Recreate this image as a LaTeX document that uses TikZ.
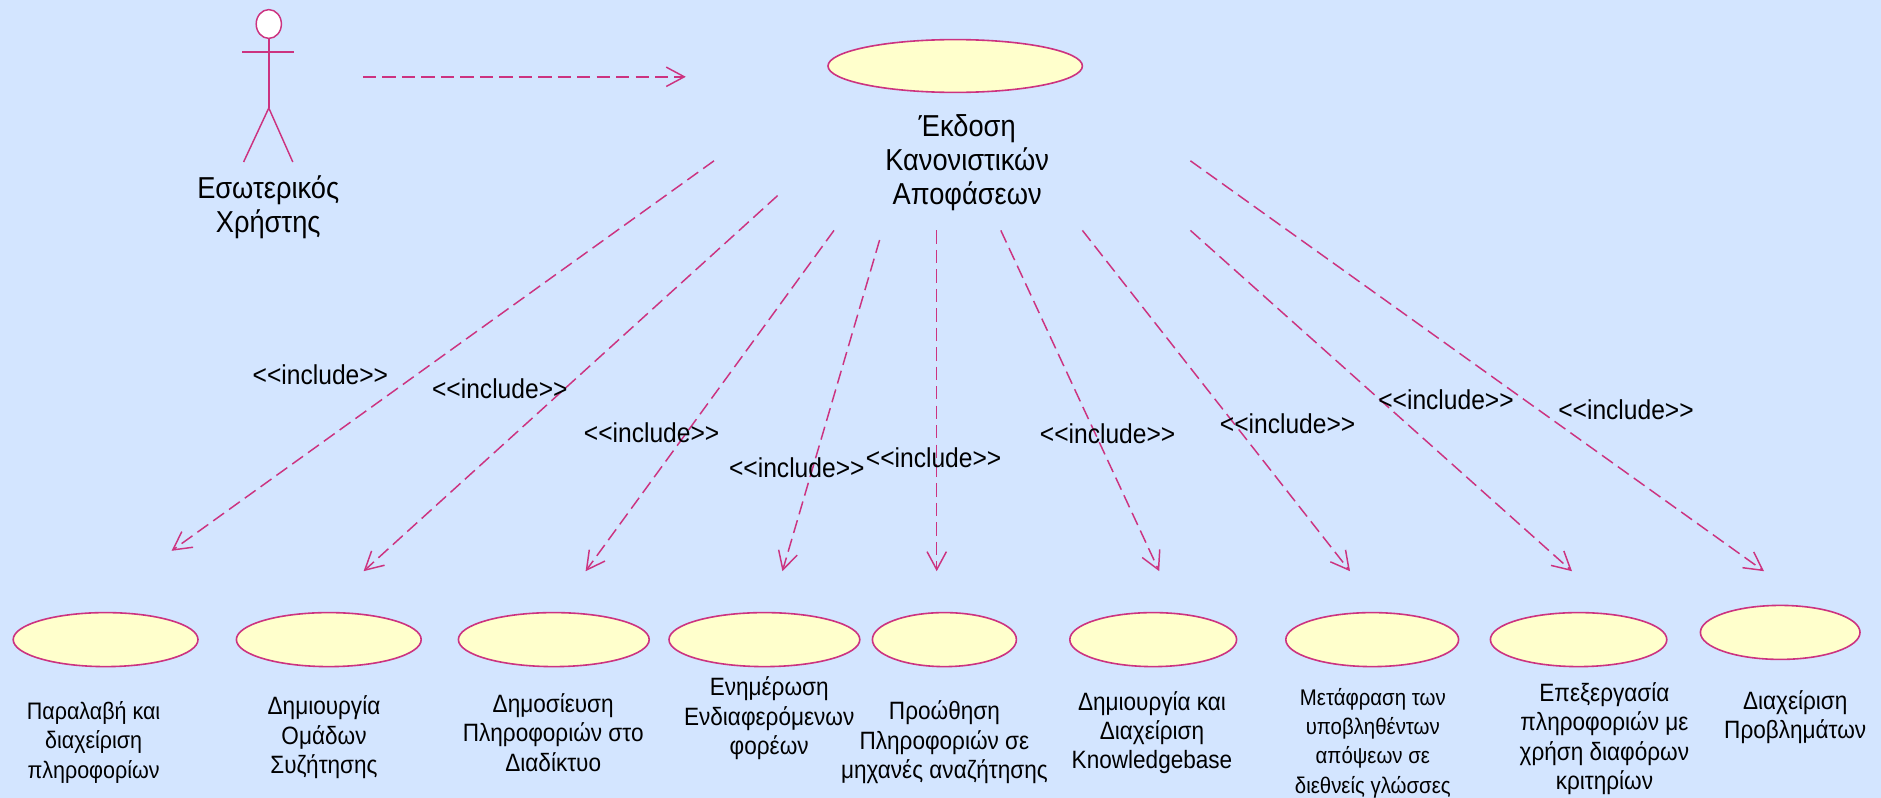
\documentclass[tikz,border=0pt]{standalone}
\usepackage{fontspec}
\setmainfont{Liberation Sans}
\usetikzlibrary{shapes.geometric,arrows.meta}
\definecolor{bgblue}{HTML}{D3E5FF}
\definecolor{umlline}{HTML}{CC3380}
\definecolor{ucfill}{HTML}{FFFFCC}
\newfontfamily\narrowfont[FakeStretch=0.9]{Liberation Sans}
\tikzset{
  usecase/.style={ellipse,draw=umlline,fill=ucfill,line width=1.2pt,inner sep=0,outer sep=0},
  dep/.style={draw=umlline,line width=1.1pt,dash pattern=on 10pt off 4.6pt,-{Straight Barb[length=13.5pt,width=14.5pt,line width=1.1pt]}},
  actorline/.style={draw=umlline,line width=1.1pt},
  lbl/.style={align=center,inner sep=0,font=\fontsize{18.8}{22}\selectfont\narrowfont},
  lblsmall/.style={lbl,font=\fontsize{17.9}{22}\selectfont\narrowfont},
  lbltight/.style={lbl,font=\fontsize{17}{22}\selectfont\narrowfont},
  biglbl/.style={align=center,inner sep=0,font=\fontsize{22.7}{25.5}\selectfont\narrowfont},
  inc/.style={inner sep=0,font=\fontsize{20.5}{20}\selectfont\narrowfont},
}
\begin{document}
\begin{tikzpicture}[x=0.9pt,y=-0.9pt]
\path[use as bounding box,fill=bgblue] (0,0) rectangle (1567.5,665);
% actor
\node[ellipse,draw=umlline,fill=white,line width=1.1pt,minimum width=18.9pt,minimum height=21.6pt,inner sep=0] (head) at (224,20) {};
\coordinate (neck) at (224,90);
\coordinate (armL) at (202,43.5);
\coordinate (armR) at (245,43.5);
\coordinate (legL) at (203,135);
\coordinate (legR) at (244,135);
\draw[actorline] (head.south) -- (neck);
\draw[actorline] (armL) -- (armR);
\draw[actorline] (legL) -- (neck) -- (legR);
\node[biglbl] (actorlbl) at (223.5,172.5) {Εσωτερικός\\Χρήστης};
% main use case
\node[usecase,minimum width=190.8pt,minimum height=39.6pt] (main) at (796,55) {};
\node[biglbl] (mainlbl) at (806,135.5) {Έκδοση\\Κανονιστικών\\Αποφάσεων};
% use cases
\node[usecase,minimum width=138.6pt,minimum height=40.5pt] (u1) at (88,533) {};
\node[usecase,minimum width=138.6pt,minimum height=40.5pt] (u2) at (274,533) {};
\node[usecase,minimum width=143.1pt,minimum height=40.5pt] (u3) at (461.5,533) {};
\node[usecase,minimum width=143.1pt,minimum height=40.5pt] (u4) at (637,533) {};
\node[usecase,minimum width=108pt,minimum height=40.5pt] (u5) at (787,533) {};
\node[usecase,minimum width=125.1pt,minimum height=40.5pt] (u6) at (961,533) {};
\node[usecase,minimum width=129.6pt,minimum height=40.5pt] (u7) at (1143.5,533) {};
\node[usecase,minimum width=132.3pt,minimum height=40.5pt] (u8) at (1315.5,533) {};
\node[usecase,minimum width=119.7pt,minimum height=40.5pt] (u9) at (1483.5,527) {};
% labels
\node[lblsmall] (l1) at (78,618.5) {Παραλαβή και\\διαχείριση\\πληροφορίων};
\node[lbl] (l2) at (270,614.5) {Δημιουργία\\Ομάδων\\Συζήτησης};
\node[lbl] (l3) at (461,610.5) {Δημοσίευση\\Πληροφοριών στο\\Διαδίκτυο};
\node[lbl] (l4) at (641,598.5) {Ενημέρωση\\Ενδιαφερόμενων\\φορέων};
\node[lbl] (l5) at (787,618.5) {Προώθηση\\Πληροφοριών σε\\μηχανές αναζήτησης};
\node[lbl] (l6) at (960,610.5) {Δημιουργία και\\Διαχείριση\\Knowledgebase};
\node[lbltight] (l7) at (1144,619) {Μετάφραση των\\υποβληθέντων\\απόψεων σε\\διεθνείς γλώσσες};
\node[lbl] (l8) at (1337,615.5) {Επεξεργασία\\πληροφοριών με\\χρήση διαφόρων\\κριτηρίων};
\node[lbl] (l9) at (1496,597.5) {Διαχείριση\\Προβλημάτων};
% connector ends
\coordinate (a0) at (302.5,64); \coordinate (b0) at (571.5,64);
\coordinate (a1) at (595,134); \coordinate (b1) at (143,459);
\coordinate (a2) at (648,163); \coordinate (b2) at (303,476);
\coordinate (a3) at (695,192); \coordinate (b3) at (488,476);
\coordinate (a4) at (733,200); \coordinate (b4) at (652,476);
\coordinate (a5) at (780.6,192); \coordinate (b5) at (780.6,476);
\coordinate (a6) at (834,192); \coordinate (b6) at (966,476);
\coordinate (a7) at (902,192); \coordinate (b7) at (1125,476);
\coordinate (a8) at (992,192); \coordinate (b8) at (1310,476);
\coordinate (a9) at (992,134); \coordinate (b9) at (1470,476);
\foreach \i in {0,...,9} {\draw[dep] (a\i) -- (b\i);}
% include labels
\node[inc] (i1) at (267,312) {<<include>>};
\node[inc] (i2) at (416.5,324) {<<include>>};
\node[inc] (i3) at (543,361) {<<include>>};
\node[inc] (i4) at (664,390) {<<include>>};
\node[inc] (i5) at (778,381.5) {<<include>>};
\node[inc] (i6) at (923,361.5) {<<include>>};
\node[inc] (i7) at (1073,353) {<<include>>};
\node[inc] (i8) at (1205,333) {<<include>>};
\node[inc] (i9) at (1355,341.5) {<<include>>};
\end{tikzpicture}
\end{document}
